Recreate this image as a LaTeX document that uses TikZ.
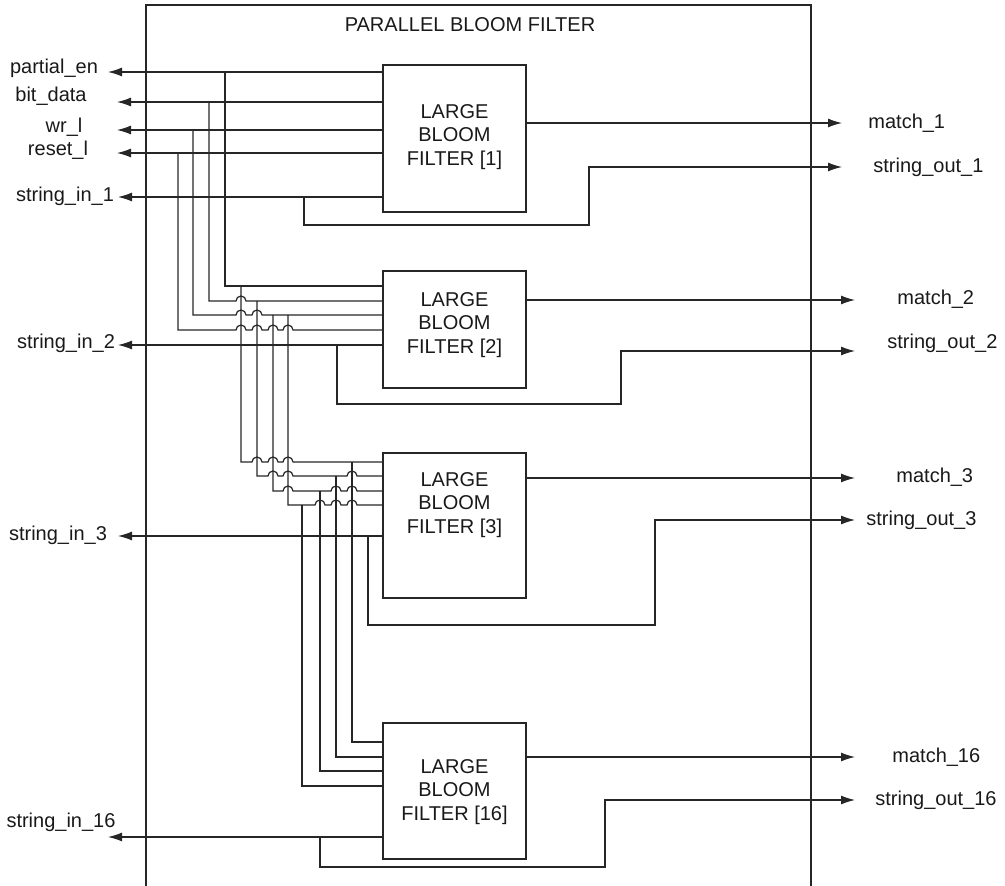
\documentclass[tikz,border=0pt]{standalone}
\usepackage{fontspec}
\setmainfont{Liberation Sans}
\usetikzlibrary{arrows.meta,positioning,calc}

\begin{document}
\begin{tikzpicture}[
  x=0.5pt,y=-0.5pt,
  font=\fontsize{10}{11.8}\selectfont,
  w/.style={line width=0.6pt,draw=black!85},
  a/.style={w,-{Latex[length=7pt,width=4.5pt]}},
  lbf/.style={draw=black!85,line width=0.6pt,minimum width=71.5pt,inner sep=0pt},
  txt/.style={align=center,inner sep=0pt,text=black!90},
  lbl/.style={inner sep=0pt,text=black!90},
  rlbl/.style={lbl,anchor=west}
]
\useasboundingbox (0,0) rectangle (1005,886);

% outer frame
\draw[w] (146,886) -- (146,5) -- (811,5) -- (811,886);
\node[lbl] (ttl) at (470,25) {PARALLEL BLOOM FILTER};

% filters
\node[lbf,minimum height=73.5pt] (b1)  at (454.5,138.5) {};
\node[lbf,minimum height=58.5pt] (b2)  at (454.5,329.5) {};
\node[lbf,minimum height=72.5pt] (b3)  at (454.5,525.5) {};
\node[lbf,minimum height=68pt]   (b16) at (454.5,791) {};
\node[txt] (t1)  at (454.5,137) {LARGE\\BLOOM\\FILTER [1]};
\node[txt] (t2)  at (454.5,325) {LARGE\\BLOOM\\FILTER [2]};
\node[txt] (t3)  at (454.5,505) {LARGE\\BLOOM\\FILTER [3]};
\node[txt] (t16) at (454.5,792) {LARGE\\BLOOM\\FILTER [16]};

% left ports
\coordinate (pe) at (108,72);
\coordinate (bd) at (117,102);
\coordinate (wr) at (117,130);
\coordinate (rs) at (117,153);
\coordinate (si1) at (118,197);
\coordinate (si2) at (118,345);
\coordinate (si3) at (118,536);
\coordinate (si16) at (108,837);
\node[lbl] (l-pe) at (54,68) {partial\_en};
\node[lbl] (l-bd) at (51,96) {bit\_data};
\node[lbl] (l-wr) at (64,127) {wr\_l};
\node[lbl] (l-rs) at (58,150) {reset\_l};
\node[lbl] (l-si1) at (65,196) {string\_in\_1};
\node[lbl] (l-si2) at (66,343) {string\_in\_2};
\node[lbl] (l-si3) at (58,535) {string\_in\_3};
\node[lbl] (l-si16) at (61,822) {string\_in\_16};

% right ports
\coordinate (m1) at (842,123);
\coordinate (so1) at (842,167);
\coordinate (m2) at (855,300);
\coordinate (so2) at (855,351);
\coordinate (m3) at (855,478);
\coordinate (so3) at (855,520);
\coordinate (m16) at (855,757);
\coordinate (so16) at (855,800);
\node[rlbl] (l-m1) at (868,123) {match\_1};
\node[rlbl] (l-so1) at (873,167) {string\_out\_1};
\node[rlbl] (l-m2) at (897,299) {match\_2};
\node[rlbl] (l-so2) at (887,343) {string\_out\_2};
\node[rlbl] (l-m3) at (896,477) {match\_3};
\node[rlbl] (l-so3) at (866,520) {string\_out\_3};
\node[rlbl] (l-m16) at (892,757) {match\_16};
\node[rlbl] (l-so16) at (875,800) {string\_out\_16};

\foreach \s in {pe,bd,wr,rs,si1} \draw[a] (b1.west |- \s) -- (\s);
\draw[a] (b2.west |- si2) -- (si2);
\draw[a] (b3.west |- si3) -- (si3);
\draw[a] (b16.west |- si16) -- (si16);
\foreach \n in {1,2,3,16} \draw[a] (b\n.east |- m\n) -- (m\n);

% string loops
\draw[a] (304,197) |- (589,225) |- (so1);
\draw[a] (337,345) |- (621,404) |- (so2);
\draw[a] (368,536) |- (655,625) |- (so3);
\draw[a] (320,837) |- (605,867) |- (so16);

% control bus, filter 1 -> 2
\draw[w] (225,72) -- (225,286) -- (b2.west |- 0,286);
\draw[w] (209,102) -- (209,301)
  \foreach \h in {241} {-- (\h-5,301) arc[start angle=180,end angle=0,radius=2.5pt]}
  -- (b2.west |- 0,301);
\draw[w] (193,130) -- (193,315)
  \foreach \h in {241,257} {-- (\h-5,315) arc[start angle=180,end angle=0,radius=2.5pt]}
  -- (b2.west |- 0,315);
\draw[w] (178,153) -- (178,330)
  \foreach \h in {241,257,273,288} {-- (\h-5,330) arc[start angle=180,end angle=0,radius=2.5pt]}
  -- (b2.west |- 0,330);

% filter 2 -> 3
\draw[w] (241,286) -- (241,462)
  \foreach \h in {257,273,288} {-- (\h-5,462) arc[start angle=180,end angle=0,radius=2.5pt]}
  -- (b3.west |- 0,462);
\draw[w] (257,301) -- (257,476)
  \foreach \h in {273,288,352} {-- (\h-5,476) arc[start angle=180,end angle=0,radius=2.5pt]}
  -- (b3.west |- 0,476);
\draw[w] (273,315) -- (273,491)
  \foreach \h in {288,336,352} {-- (\h-5,491) arc[start angle=180,end angle=0,radius=2.5pt]}
  -- (b3.west |- 0,491);
\draw[w] (288,315) -- (288,505)
  \foreach \h in {320,336,352} {-- (\h-5,505) arc[start angle=180,end angle=0,radius=2.5pt]}
  -- (b3.west |- 0,505);

% filter 3 -> 16
\draw[w] (352,462) -- (352,742) -- (b16.west |- 0,742);
\draw[w] (336,476) -- (336,757) -- (b16.west |- 0,757);
\draw[w] (320,491) -- (320,771) -- (b16.west |- 0,771);
\draw[w] (302,505) -- (302,786) -- (b16.west |- 0,786);
\end{tikzpicture}
\end{document}
